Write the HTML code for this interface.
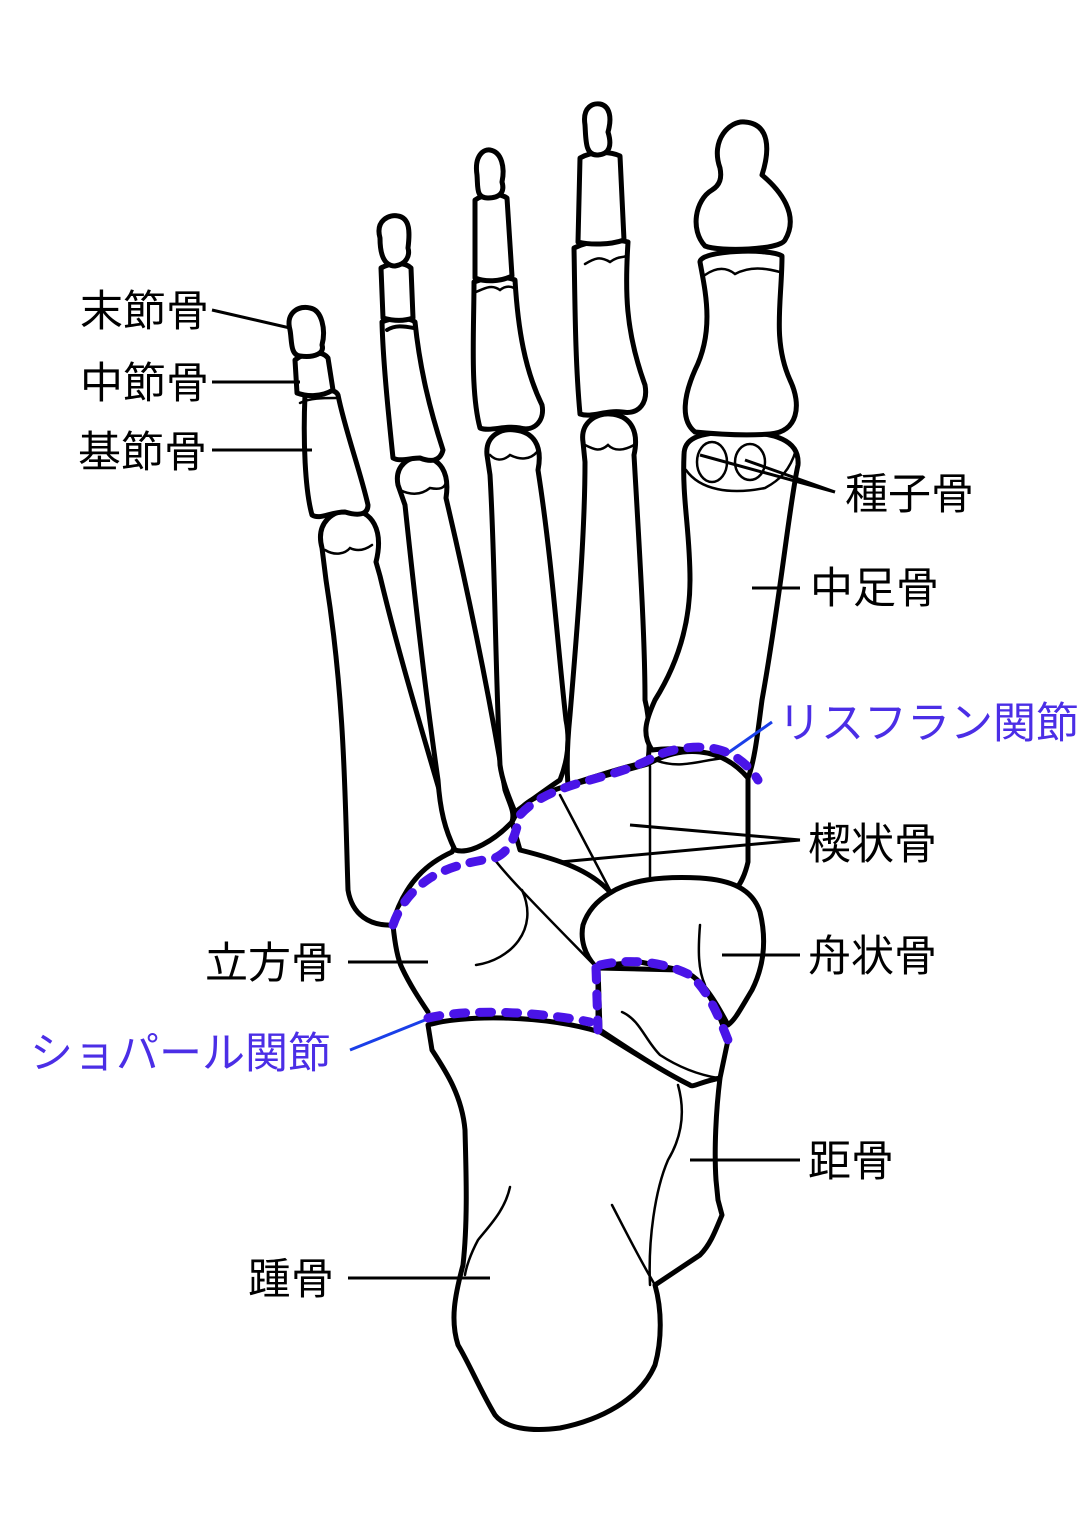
<!DOCTYPE html>
<html><head><meta charset="utf-8"><style>
html,body{margin:0;padding:0;background:#fff}
svg{display:block}
text{font-family:"Liberation Sans","Noto Sans CJK JP",sans-serif;font-size:43px}
</style></head><body>
<svg width="1086" height="1536" viewBox="0 0 1086 1536" xmlns="http://www.w3.org/2000/svg">
<g fill="#fff" stroke="#000" stroke-width="5" stroke-linejoin="round" stroke-linecap="round">
<path d="M322,548 C315,522 334,510 350,510 C372,510 384,530 376,562 L380,576 C400,660 425,740 445,810 C455,830 458,842 452,852 C430,862 405,880 392,925 C370,926 352,915 348,890 C345,800 345,700 326,580 Z"/>
<path d="M305,395 C318,388 335,388 338,395 C345,430 360,470 368,505 C368,515 358,516 345,512 C330,512 320,520 312,515 C305,490 303,440 305,395 Z"/>
<path d="M295,360 C305,352 322,350 328,358 L333,390 C320,398 305,396 297,393 Z"/>
<path d="M290,330 C285,312 300,305 310,308 C322,310 326,330 322,345 C325,353 315,358 300,356 C290,355 292,340 290,330 Z"/>
<path d="M398,485 C394,465 410,456 422,457 C440,458 450,472 446,498 C470,600 490,700 505,790 C510,805 515,812 512,822 C495,840 470,855 455,850 C445,830 440,810 438,780 C425,690 415,600 405,505 Z"/>
<path d="M382,322 C395,316 410,318 415,322 C420,370 430,410 443,450 C440,462 430,462 420,458 C410,458 400,462 393,458 C388,410 383,360 382,322 Z"/>
<path d="M381,268 C392,262 405,262 411,268 L413,318 C402,322 390,320 383,318 Z"/>
<path d="M380,238 C375,220 390,214 398,216 C410,218 410,232 408,248 C410,255 407,264 395,266 C383,266 380,252 380,238 Z"/>
<path d="M487,455 C485,435 502,428 515,430 C533,432 543,445 538,470 C552,560 558,650 566,720 C570,740 568,760 560,780 C545,790 525,805 515,812 C508,795 502,780 500,765 C495,660 495,560 490,475 Z"/>
<path d="M474,282 C490,276 505,276 515,280 C518,330 525,370 542,405 C545,420 535,432 520,428 C505,425 490,432 480,428 C470,390 474,330 474,282 Z"/>
<path d="M475,200 C485,193 500,193 507,198 L512,276 C500,282 485,282 475,278 Z"/>
<path d="M477,175 C474,155 484,149 490,150 C502,152 505,168 502,182 C505,192 500,198 488,198 C476,198 478,188 477,175 Z"/>
<path d="M583,442 C580,422 597,413 610,414 C628,415 640,428 634,455 C640,560 645,640 645,700 C650,720 650,745 648,762 C630,765 600,775 568,785 C566,760 568,735 570,715 C578,620 585,530 585,462 Z"/>
<path d="M574,248 C590,240 615,238 628,242 C625,290 625,330 645,385 C648,402 640,415 622,412 C605,410 592,418 580,414 C575,360 575,300 574,248 Z"/>
<path d="M580,158 C592,151 610,151 620,156 L624,240 C610,245 590,245 578,242 Z"/>
<path d="M585,125 C582,106 594,103 600,104 C610,106 612,118 608,132 C612,145 610,154 598,155 C585,156 586,140 585,125 Z"/>
<path d="M684,455 C684,440 695,432 735,432 C775,432 800,440 798,465 C790,500 780,600 762,700 C758,730 755,760 748,778 C720,755 690,745 652,750 C642,735 645,722 655,700 C680,660 690,620 690,580 C690,530 682,500 684,455 Z"/>
<path d="M700,262 C700,250 770,248 782,256 C782,300 772,340 790,380 C802,405 798,432 770,434 C745,436 715,434 695,432 C680,420 684,395 695,370 C715,330 705,290 700,262 Z"/>
<path d="M720,168 C710,140 730,120 745,122 C770,124 770,150 762,175 C780,190 800,215 785,240 C780,250 720,252 705,246 C690,230 695,200 712,190 C720,185 722,178 720,168 Z"/>
<path d="M512,822 C520,805 530,798 560,788 L648,764 C680,746 720,745 748,778 L748,862 C745,875 740,885 735,890 L610,892 C590,870 560,860 520,850 Z"/>
<path d="M610,893 C630,880 660,876 700,878 C730,880 752,888 760,912 C768,945 762,970 752,990 C740,1010 735,1020 728,1025 C715,1000 700,975 680,970 L640,962 L595,966 C585,955 580,940 583,925 C588,910 598,900 610,893 Z"/>
<!-- cuboid fill -->
<path stroke="none" d="M393,925 C400,900 420,880 448,866 C470,860 485,858 495,860 C510,880 560,930 595,966 L598,1030 C585,1028 565,1018 540,1016 C500,1012 460,1012 428,1012 C420,1000 405,980 400,960 C395,945 392,935 393,925 Z"/>
<path fill="none" d="M393,925 C395,945 398,960 402,968 C410,985 420,1000 428,1012 M598,968 L598,1030"/>
<!-- calcaneus + talus outer -->
<path d="M428,1025 C460,1015 540,1014 600,1032 C630,1050 660,1070 690,1085 L720,1078 C716,1110 714,1150 716,1180 L718,1200 L722,1215 C715,1232 710,1245 700,1255 L655,1285 C662,1310 662,1340 655,1365 C640,1400 600,1420 560,1428 C530,1432 505,1428 495,1415 C480,1390 470,1365 458,1345 C450,1320 455,1295 463,1265 C468,1220 466,1170 465,1130 C462,1095 445,1070 432,1050 Z"/>
<!-- talus head -->
<path d="M598,968 L680,970 C700,975 715,1000 728,1040 L720,1078 C700,1082 692,1088 690,1085 C660,1070 630,1050 600,1030 Z"/>
</g>
<g fill="none" stroke="#000" stroke-width="2.5" stroke-linecap="round">
<path d="M585,264 C595,258 600,256 610,262 C618,256 622,258 626,256"/>
<path d="M476,292 C485,288 492,284 500,290 C505,286 510,286 514,288"/>
<path d="M705,275 C715,268 725,266 735,274 C750,266 765,268 780,272"/>
<path d="M387,330 C395,325 403,326 414,328" stroke-width="4"/>
<path d="M300,403 C310,398 322,398 336,398"/>
<path d="M400,490 C410,495 420,496 430,488 C440,490 445,488 446,482"/>
<path d="M490,455 C495,460 502,462 510,455 C520,460 530,460 537,452"/>
<path d="M585,445 C595,450 600,452 608,445 C615,452 625,450 634,445"/>
<path d="M325,550 C335,556 345,554 350,548 C358,552 365,550 372,545"/>
<path d="M686,470 C700,490 730,495 765,488 C780,480 790,470 796,450"/>
<ellipse cx="712" cy="462" rx="15" ry="20"/>
<ellipse cx="750" cy="462" rx="15" ry="18"/>
<path d="M655,760 C680,770 700,760 725,758"/>
<path d="M560,795 L610,890"/>
<path d="M650,766 L650,877"/>
<path d="M495,860 C510,880 560,930 595,966"/>
<path d="M522,890 C540,930 510,960 476,965"/>
<path d="M700,925 C698,950 698,970 705,985"/>
<path d="M622,1012 C640,1020 645,1040 660,1055 C680,1068 700,1075 718,1078"/>
<path d="M678,1085 C685,1110 683,1135 668,1160 C655,1190 648,1240 650,1285"/>
<path d="M612,1205 C625,1230 640,1260 655,1285"/>
<path d="M510,1187 C505,1210 490,1225 478,1240 C470,1255 466,1268 465,1275"/>
</g>
<g stroke="#000" stroke-width="3" fill="none">
<path d="M212,310 L290,328"/><path d="M212,382 L300,382"/><path d="M212,450 L312,450"/>
<path d="M835,492 L700,455 M835,492 L745,460"/><path d="M752,588 L800,588"/>
<path d="M800,840 L630,825 M800,840 L560,862"/>
<path d="M722,955 L800,955"/><path d="M348,962 L428,962"/>
<path d="M690,1160 L800,1160"/><path d="M348,1278 L490,1278"/>
</g>
<g stroke="#1a3fe8" stroke-width="3" fill="none">
<path d="M772,722 L725,755"/><path d="M350,1050 L425,1020"/>
</g>
<g stroke="#4a14e8" stroke-width="9" fill="none" stroke-linecap="round" stroke-dasharray="12 14">
<path d="M393,925 C400,905 412,890 430,878 C450,866 470,862 495,858 C512,850 515,835 520,815 C535,798 560,788 590,780 C620,772 640,765 652,758 C670,748 700,744 720,750 C740,756 752,770 758,780"/>
<path d="M428,1018 C470,1008 540,1012 590,1022"/>
<path d="M596,968 L598,1030"/>
<path d="M600,965 C630,958 665,962 690,975 C708,990 718,1015 728,1040"/>
</g>
<g fill="#000">
<text x="80" y="326">末節骨</text>
<text x="80" y="398">中節骨</text>
<text x="78" y="467">基節骨</text>
<text x="845" y="509">種子骨</text>
<text x="810" y="603">中足骨</text>
<text x="808" y="859">楔状骨</text>
<text x="808" y="971">舟状骨</text>
<text x="205" y="978">立方骨</text>
<text x="808" y="1176">距骨</text>
<text x="248" y="1294">踵骨</text>
</g>
<g fill="#4b2ee6">
<text x="778" y="738">リスフラン関節</text>
<text x="30" y="1068">ショパール関節</text>
</g>
</svg>
</body></html>
